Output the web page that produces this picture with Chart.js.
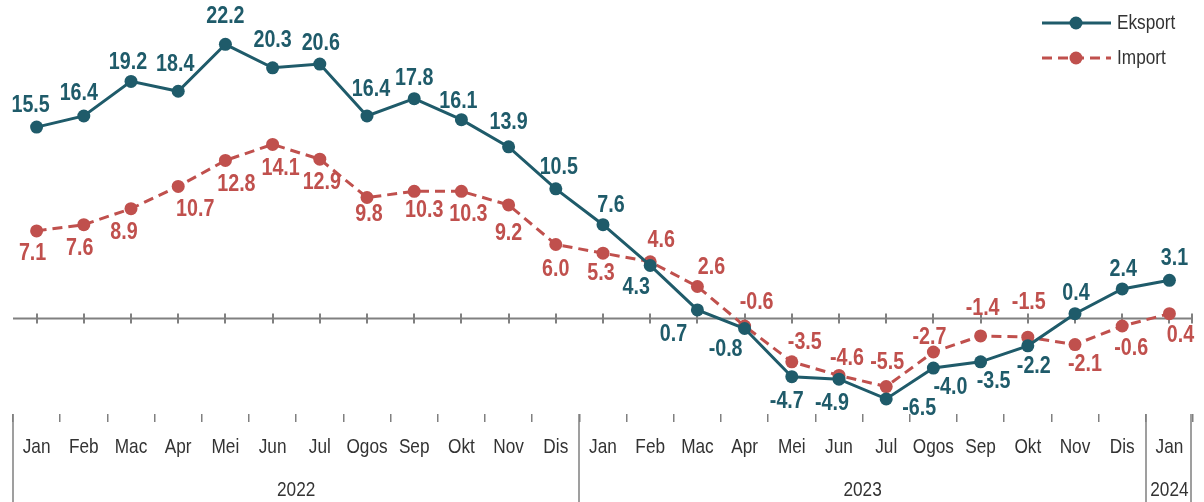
<!DOCTYPE html>
<html><head><meta charset="utf-8">
<script src="https://cdn.jsdelivr.net/npm/chart.js@4.4.1/dist/chart.umd.min.js"></script>
<style>html,body{margin:0;padding:0;background:#fff}#wrap{width:1204px;height:502px;position:relative}</style>
</head><body><div id="wrap"><canvas id="c"></canvas></div>
<script>
// ---- data ----
const months = ['Jan','Feb','Mac','Apr','Mei','Jun','Jul','Ogos','Sep','Okt','Nov','Dis','Jan','Feb','Mac','Apr','Mei','Jun','Jul','Ogos','Sep','Okt','Nov','Dis','Jan'];
const years = ['2022','2023','2024'];
const yearMonthCounts = [12, 12, 1];
const seriesNames = ['Eksport', 'Import'];
const eksport = [15.5,16.4,19.2,18.4,22.2,20.3,20.6,16.4,17.8,16.1,13.9,10.5,7.6,4.3,0.7,-0.8,-4.7,-4.9,-6.5,-4.0,-3.5,-2.2,0.4,2.4,3.1];
const importVals = [7.1,7.6,8.9,10.7,12.8,14.1,12.9,9.8,10.3,10.3,9.2,6.0,5.3,4.6,2.6,-0.6,-3.5,-4.6,-5.5,-2.7,-1.4,-1.5,-2.1,-0.6,0.4];

// ---- style: label offsets from each point (px) ----
const eksportLabelOffset = [[-6,-22],[-5,-23],[-3,-19],[-3,-27],[0,-28],[0,-27],[1,-21],[4,-27],[0,-20],[-3,-18],[0,-24],[3,-21],[8,-19],[-14,22],[-24,24],[-19,21],[-5,25],[-7,24],[33,9],[17,19],[13,20],[6,21],[1,-20],[1,-20],[5,-22]];
const importLabelOffset = [[-4,22],[-4,24],[-7,24],[17,23],[11,24],[8,24],[2,23],[2,17],[10,19],[7,23],[0,28],[0,25],[-2,20],[11,-21],[14,-19],[12,-24],[13,-19],[8,-17],[1,-24],[-4,-15],[2,-28],[1,-35],[10,20],[9,22],[11,22]];

const FONT = '"Liberation Sans",Arial,sans-serif';
const NARROW = 0.82;
const C_EKS = '#1F5B6A';
const C_IMP = '#C0504D';
const C_AXIS = '#808080';
const C_TEXT = '#333333';

function narrowText(ctx, text, x, y, font, color, align) {
  ctx.save();
  ctx.translate(x, y);
  ctx.scale(NARROW, 1);
  ctx.font = font;
  ctx.fillStyle = color;
  ctx.textAlign = align || 'center';
  ctx.textBaseline = 'middle';
  ctx.fillText(text, 0, 0);
  ctx.restore();
}

const decor = {
  id: 'decor',
  beforeDatasetsDraw(chart) {
    const {ctx, chartArea: a, scales: {x, y}} = chart;
    const y0 = y.getPixelForValue(0);
    ctx.save();
    ctx.strokeStyle = C_AXIS; ctx.lineWidth = 2;
    ctx.beginPath();
    ctx.moveTo(a.left, y0); ctx.lineTo(a.right, y0);
    for (let i = 0; i < months.length; i++) {
      const px = Math.round(x.getPixelForValue(i));
      ctx.moveTo(px, y0 - 5); ctx.lineTo(px, y0 + 5);
    }
    ctx.moveTo(a.right - 1, y0 - 5); ctx.lineTo(a.right - 1, y0 + 5);
    ctx.stroke();
    ctx.restore();
  },
  afterDatasetsDraw(chart) {
    const {ctx, chartArea: a, scales: {x}} = chart;
    const H = chart.height;
    ctx.save();
    // month labels (category axis ticks, narrow)
    months.forEach((m, i) => {
      narrowText(ctx, m, x.getPixelForValue(i), 447, '21px ' + FONT, C_TEXT, 'center');
    });
    // year separators and labels
    ctx.strokeStyle = C_AXIS; ctx.lineWidth = 1.5;
    let start = 0;
    const bounds = [start];
    yearMonthCounts.forEach(n => { start += n; bounds.push(start); });
    ctx.beginPath();
    bounds.forEach(b => {
      let px = Math.round(x.getPixelForValue(b - 0.5));
      if (b === months.length) px = a.right - 2;
      ctx.moveTo(px, a.bottom); ctx.lineTo(px, H);
    });
    ctx.stroke();
    years.forEach((yr, k) => {
      const x1 = x.getPixelForValue(bounds[k] - 0.5);
      const x2 = x.getPixelForValue(bounds[k + 1] - 0.5);
      narrowText(ctx, yr, (x1 + x2) / 2, 490, '21px ' + FONT, C_TEXT, 'center');
    });
    // data labels
    const sets = [[0, eksportLabelOffset, C_EKS], [1, importLabelOffset, C_IMP]];
    sets.forEach(([di, off, col]) => {
      const meta = chart.getDatasetMeta(di);
      const vals = chart.data.datasets[di].data;
      meta.data.forEach((pt, i) => {
        narrowText(ctx, vals[i].toFixed(1), pt.x + off[i][0], pt.y + off[i][1], 'bold 24px ' + FONT, col, 'center');
      });
    });
    // legend
    const leg = [[C_EKS, [], 23], [C_IMP, [10, 6], 58]];
    leg.forEach(([col, dash, ly], k) => {
      ctx.strokeStyle = col; ctx.lineWidth = 3; ctx.setLineDash(dash);
      ctx.beginPath(); ctx.moveTo(1042, ly); ctx.lineTo(1111, ly); ctx.stroke();
      ctx.setLineDash([]);
      ctx.fillStyle = col;
      ctx.beginPath(); ctx.arc(1076, ly, 6.5, 0, Math.PI * 2); ctx.fill();
      narrowText(ctx, seriesNames[k], 1117, ly, '21px ' + FONT, C_TEXT, 'left');
    });
    ctx.restore();
  }
};

new Chart(document.getElementById('c'), {
  type: 'line',
  data: {
    labels: months,
    datasets: [
      {label: seriesNames[0], data: eksport, borderColor: C_EKS, backgroundColor: C_EKS, borderWidth: 3,
       pointRadius: 6.5, pointBackgroundColor: C_EKS, pointBorderWidth: 0, tension: 0},
      {label: seriesNames[1], data: importVals, borderColor: C_IMP, backgroundColor: C_IMP, borderWidth: 3,
       borderDash: [10, 6], pointRadius: 6.5, pointBackgroundColor: C_IMP, pointBorderWidth: 0, tension: 0}
    ]
  },
  options: {
    responsive: true, maintainAspectRatio: false, animation: false,
    layout: {padding: {top: 4, left: 13, right: 11, bottom: 0}},
    plugins: {legend: {display: false}, tooltip: {enabled: false}},
    scales: {
      x: {
        type: 'category', offset: true,
        grid: {display: true, drawOnChartArea: false, drawTicks: true, tickLength: 8, offset: true, color: C_AXIS, lineWidth: 1.5},
        border: {display: false},
        ticks: {display: false, autoSkip: false},
        afterFit(s) { s.height = 88; }
      },
      y: {display: false, min: -7.72, max: 25.26}
    }
  },
  plugins: [decor]
});
</script></body></html>
